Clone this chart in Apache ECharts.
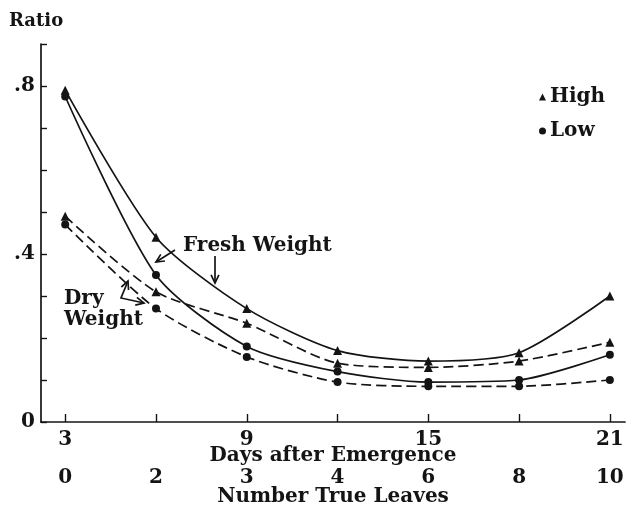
<!DOCTYPE html>
<html>
<head>
<meta charset="utf-8">
<script src="https://cdn.jsdelivr.net/npm/echarts@6/dist/echarts.min.js"></script>
<style>
  html, body { margin: 0; padding: 0; background: #fff; }
  #main { width: 629px; height: 506px; }
</style>
</head>
<body>
<div id="main"></div>
<script>
// days after emergence and matching number of true leaves
const days = [3, 6, 9, 12, 15, 18, 21];
const leaves = ['0', '2', '3', '4', '6', '8', '10'];
const dayLabels = [3, 9, 15, 21];
const yLabels = [0, 0.4, 0.8];

// ratio values
const highFresh = [0.79, 0.44, 0.27, 0.17, 0.145, 0.165, 0.30];
const lowFresh = [0.775, 0.35, 0.18, 0.12, 0.095, 0.10, 0.16];
const highDry = [0.49, 0.31, 0.235, 0.14, 0.13, 0.145, 0.19];
const lowDry = [0.47, 0.27, 0.155, 0.095, 0.085, 0.085, 0.10];

const ink = '#141414';
const font = 'DejaVu Serif';
const fs = 20;

const pairs = arr => days.map((d, i) => [d, arr[i]]);

function makeSeries(id, name, values, symbol, dashed) {
    return {
        id: id,
        name: name,
        type: 'line',
        data: pairs(values),
        smooth: 0.25,
        symbol: symbol,
        symbolSize: symbol === 'triangle' ? 9 : 8,
        itemStyle: { color: ink },
        lineStyle: { color: ink, width: 1.7, type: dashed ? [10, 5] : 'solid' },
        emphasis: { disabled: true },
        z: 3
    };
}

// arrow helper: line through points, open head at chosen ends
function arrow(pts, heads) {
    const out = [{ type: 'polyline', shape: { points: pts }, style: { stroke: ink, lineWidth: 1.7, fill: null } }];
    const head = (tip, from) => {
        const a = Math.atan2(tip[1] - from[1], tip[0] - from[0]);
        const L = 9, w = 0.45;
        out.push({
            type: 'polyline',
            shape: { points: [
                [tip[0] - L * Math.cos(a - w), tip[1] - L * Math.sin(a - w)],
                tip,
                [tip[0] - L * Math.cos(a + w), tip[1] - L * Math.sin(a + w)]
            ] },
            style: { stroke: ink, lineWidth: 1.7, fill: null }
        });
    };
    if (heads.includes('end')) head(pts[pts.length - 1], pts[pts.length - 2]);
    if (heads.includes('start')) head(pts[0], pts[1]);
    return out;
}

const label = (text, x, y) => ({
    type: 'text', left: x, top: y,
    style: { text: text, font: 'bold ' + fs + 'px "' + font + '"', fill: ink }
});

const chart = echarts.init(document.getElementById('main'));

chart.setOption({
    backgroundColor: '#fff',
    animation: false,
    textStyle: { fontFamily: font, color: ink },
    grid: { left: 41, right: 4, top: 44, bottom: 84, outerBoundsMode: 'none' },
    legend: {
        data: [{ name: 'High', icon: 'triangle' }, { name: 'Low', icon: 'circle' }],
        orient: 'vertical',
        left: 534,
        top: 82,
        itemWidth: 7,
        itemHeight: 7,
        itemGap: 14,
        selectedMode: false,
        textStyle: { fontFamily: font, fontWeight: 'bold', fontSize: fs, color: ink, padding: [0, 0, 0, -1] },
        itemStyle: { color: ink }
    },
    xAxis: [
        {
            type: 'value',
            min: 2.2,
            max: 21.5,
            name: 'Days after Emergence',
            nameLocation: 'middle',
            nameGap: 24,
            nameMoveOverlap: false,
            nameTextStyle: { fontFamily: font, fontWeight: 'bold', fontSize: fs, color: ink },
            axisLine: { lineStyle: { color: ink, width: 1.7 } },
            axisTick: { inside: true, length: 8, customValues: days, lineStyle: { color: ink, width: 1.4 } },
            axisLabel: { customValues: dayLabels, margin: 8, fontFamily: font, fontWeight: 'bold', fontSize: fs, color: ink },
            splitLine: { show: false }
        },
        {
            type: 'value',
            min: 2.2,
            max: 21.5,
            position: 'bottom',
            offset: 38,
            name: 'Number True Leaves',
            nameLocation: 'middle',
            nameGap: 27,
            nameMoveOverlap: false,
            nameTextStyle: { fontFamily: font, fontWeight: 'bold', fontSize: fs, color: ink },
            axisLine: { show: false },
            axisTick: { show: false },
            axisLabel: {
                customValues: days,
                margin: 8,
                fontFamily: font, fontWeight: 'bold', fontSize: fs, color: ink,
                formatter: v => leaves[days.indexOf(v)]
            },
            splitLine: { show: false }
        }
    ],
    yAxis: {
        type: 'value',
        min: 0,
        max: 0.9,
        interval: 0.1,
        name: 'Ratio',
        nameLocation: 'end',
        nameGap: 14,
        nameTextStyle: { fontFamily: font, fontWeight: 'bold', fontSize: 18, color: ink, align: 'left', padding: [0, 0, 0, -32] },
        axisLine: { show: true, lineStyle: { color: ink, width: 1.7 } },
        axisTick: { show: true, inside: true, length: 6, lineStyle: { color: ink, width: 1.4 } },
        axisLabel: {
            customValues: yLabels,
            margin: 6,
            fontFamily: font, fontWeight: 'bold', fontSize: fs, color: ink,
            formatter: v => v === 0 ? '0' : String(v).replace(/^0/, '')
        },
        splitLine: { show: false }
    },
    series: [
        makeSeries('hf', 'High', highFresh, 'triangle', false),
        makeSeries('lf', 'Low', lowFresh, 'circle', false),
        makeSeries('hd', 'High', highDry, 'triangle', true),
        makeSeries('ld', 'Low', lowDry, 'circle', true)
    ],
    graphic: [
        label('Fresh Weight', 183, 236),
        label('Dry', 64, 289),
        label('Weight', 64, 310),
        ...arrow([[175, 250], [156, 262]], ['end']),
        ...arrow([[215, 256], [215, 283]], ['end']),
        ...arrow([[128, 281], [121, 298], [144, 303]], ['start', 'end'])
    ]
});
</script>
</body>
</html>
